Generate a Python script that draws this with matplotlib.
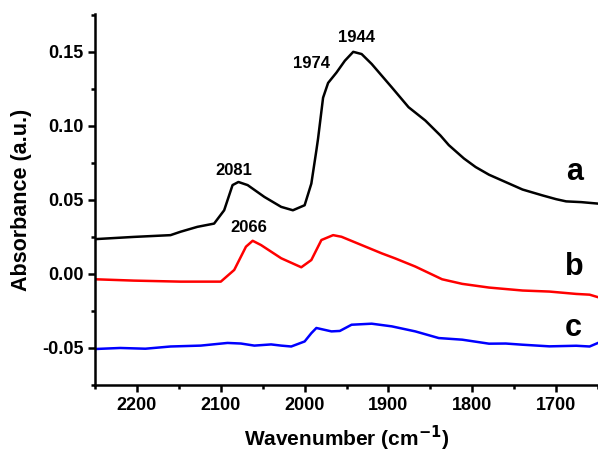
import numpy as np
import matplotlib
matplotlib.use("Agg")
import matplotlib.pyplot as plt
from matplotlib.ticker import MultipleLocator, FormatStrFormatter

plt.rcParams["font.family"] = ["Liberation Sans", "DejaVu Sans"]
plt.rcParams["font.weight"] = "bold"

# Espectros (número de onda em cm-1, absorbância)
wn_a = [2250, 2204, 2160, 2148, 2128, 2108, 2096, 2086, 2079, 2068, 2048, 2028, 2014,
        2000, 1992, 1986, 1984, 1978, 1972, 1962, 1952, 1942, 1932, 1920, 1896, 1876,
        1856, 1838, 1828, 1810, 1796, 1780, 1756, 1740, 1716, 1700, 1688, 1670, 1650]
abs_a = [0.0235, 0.0250, 0.0262, 0.0285, 0.0318, 0.0340, 0.0430, 0.0600, 0.0621, 0.0600,
         0.0520, 0.0453, 0.0430, 0.0464, 0.0610, 0.0834, 0.0913, 0.1190, 0.1290, 0.1360,
         0.1440, 0.1500, 0.1485, 0.1418, 0.1260, 0.1126, 0.1036, 0.0935, 0.0870, 0.0780,
         0.0722, 0.0670, 0.0610, 0.0570, 0.0530, 0.0505, 0.0490, 0.0485, 0.0475]

wn_b = [2250, 2204, 2148, 2100, 2084, 2070, 2062, 2052, 2028, 2004, 1992, 1980, 1966,
        1956, 1932, 1908, 1892, 1868, 1836, 1812, 1780, 1740, 1708, 1676, 1660, 1650]
abs_b = [-0.0036, -0.0045, -0.0052, -0.0052, 0.0027, 0.0184, 0.0224, 0.0195, 0.0106,
         0.0045, 0.0094, 0.0229, 0.0262, 0.0251, 0.0195, 0.0139, 0.0105, 0.0050, -0.0036,
         -0.0067, -0.0092, -0.0112, -0.0119, -0.0135, -0.0140, -0.0157]

wn_c = [2250, 2220, 2190, 2160, 2124, 2092, 2076, 2060, 2040, 2028, 2016, 2000, 1992,
        1986, 1968, 1958, 1944, 1920, 1896, 1868, 1840, 1812, 1780, 1760, 1740, 1708,
        1676, 1660, 1650]
abs_c = [-0.0507, -0.0500, -0.0505, -0.0490, -0.0484, -0.0466, -0.0470, -0.0484, -0.0476,
         -0.0484, -0.0490, -0.0456, -0.0400, -0.0365, -0.0388, -0.0385, -0.0343, -0.0336,
         -0.0354, -0.0388, -0.0433, -0.0444, -0.0471, -0.0470, -0.0478, -0.0489, -0.0485,
         -0.0490, -0.0466]

# Rótulos de pico: (texto, número de onda, absorbância)
picos = [("2081", 2084, 0.070), ("2066", 2067, 0.0316),
         ("1974", 1992, 0.1418), ("1944", 1938, 0.1597)]
curvas = [("a", 1678, 0.0688), ("b", 1678, 0.0049), ("c", 1680, -0.0365)]

fig = plt.figure(figsize=(5.98, 4.54), dpi=100)
ax = fig.add_axes([0.159, 0.152, 0.841, 0.817])

ax.plot(wn_a, abs_a, color="black", linewidth=1.8)
ax.plot(wn_b, abs_b, color="red", linewidth=1.8)
ax.plot(wn_c, abs_c, color="blue", linewidth=1.8)

for txt, x, y in picos:
    ax.text(x, y, txt, fontsize=12, fontweight="bold", ha="center", va="center")
for txt, x, y in curvas:
    ax.text(x, y, txt, fontsize=22, fontweight="bold", ha="center", va="center")

ax.set_xlim(2250, 1650)
ax.set_ylim(-0.075, 0.1755)
ax.xaxis.set_major_locator(MultipleLocator(100))
ax.xaxis.set_minor_locator(MultipleLocator(50))
ax.yaxis.set_major_locator(MultipleLocator(0.05))
ax.yaxis.set_minor_locator(MultipleLocator(0.025))
ax.yaxis.set_major_formatter(FormatStrFormatter("%.2f"))

for s in ["top", "right"]:
    ax.spines[s].set_visible(False)
for s in ["left", "bottom"]:
    ax.spines[s].set_linewidth(1.8)

ax.tick_params(which="major", direction="out", length=5, width=1.8, labelsize=13)
ax.tick_params(which="minor", direction="out", length=3, width=1.8)

ax.set_xlabel("Wavenumber (cm$^{\\mathbf{-1}}$)", fontsize=15, fontweight="bold", labelpad=7)
ax.set_ylabel("Absorbance (a.u.)", fontsize=15.5, fontweight="bold", labelpad=7)

plt.savefig("out.png", dpi=100)
